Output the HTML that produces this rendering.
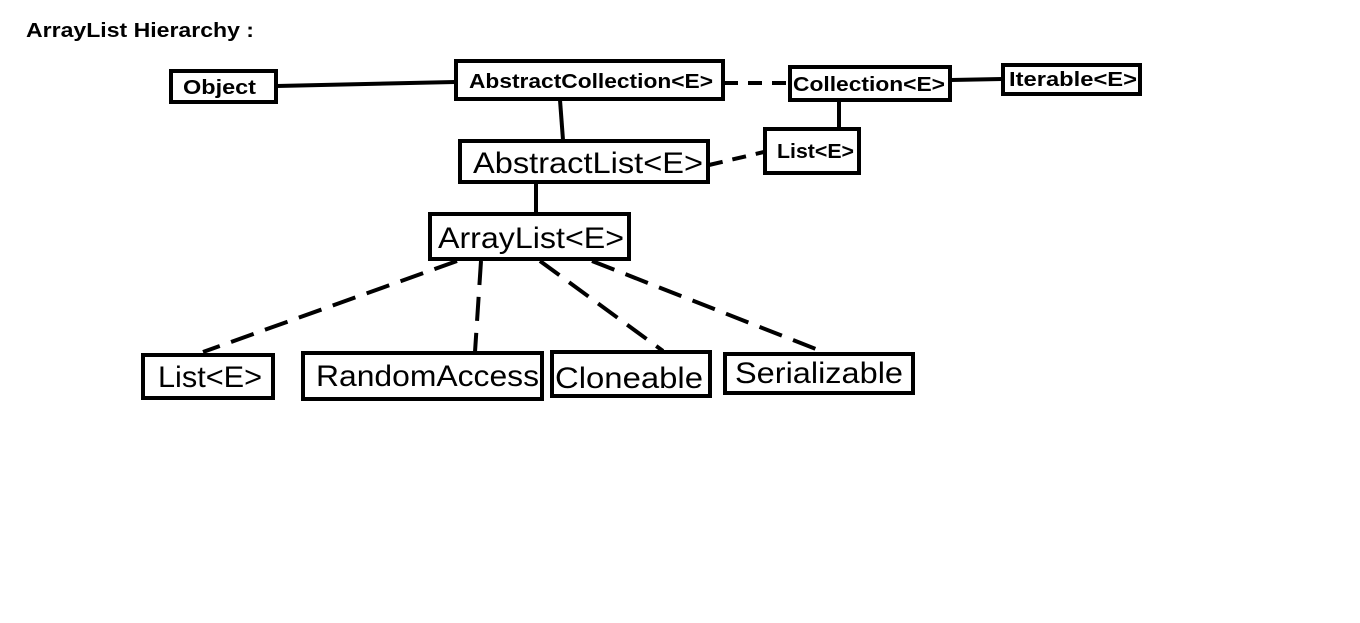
<!DOCTYPE html>
<html><head><style>body{margin:0;background:#fff}svg{display:block}</style></head><body>
<svg width="1360" height="623" xmlns="http://www.w3.org/2000/svg" font-family="Liberation Sans, sans-serif">
<rect width="1360" height="623" fill="#fff"/>
<text x="26" y="37" font-size="20" font-weight="bold" textLength="228" lengthAdjust="spacingAndGlyphs">ArrayList Hierarchy :</text>
<g stroke="#000" stroke-width="4" fill="none">
<line x1="277" y1="86" x2="455" y2="82"/>
<line x1="951" y1="80" x2="1002" y2="79"/>
<line x1="839" y1="101" x2="839" y2="128"/>
<line x1="560" y1="100" x2="563" y2="140"/>
<line x1="536" y1="183" x2="536" y2="215"/>
<g stroke-dasharray="24,12">
<line x1="724" y1="83" x2="789" y2="83" stroke-dasharray="14,10"/>
<line x1="709" y1="165" x2="764" y2="152" stroke-dasharray="14,10"/>
<line x1="457" y1="261" x2="203" y2="352"/>
<line x1="481" y1="261" x2="475" y2="352"/>
<line x1="540" y1="261" x2="663" y2="351"/>
<line x1="592" y1="261" x2="826" y2="353"/>
</g>
<rect x="171" y="71" width="105" height="31"/>
<rect x="456" y="61" width="267" height="38"/>
<rect x="790" y="67" width="160" height="33"/>
<rect x="1003" y="65" width="137" height="29"/>
<rect x="765" y="129" width="94" height="44"/>
<rect x="460" y="141" width="248" height="41"/>
<rect x="430" y="214" width="199" height="45"/>
<rect x="143" y="355" width="130" height="43"/>
<rect x="303" y="353" width="239" height="46"/>
<rect x="552" y="352" width="158" height="44"/>
<rect x="725" y="354" width="188" height="39"/>
</g>
<g font-size="20" font-weight="bold">
<text x="183" y="94" textLength="73" lengthAdjust="spacingAndGlyphs">Object</text>
<text x="469" y="88" textLength="244" lengthAdjust="spacingAndGlyphs">AbstractCollection&lt;E&gt;</text>
<text x="793" y="91" textLength="152" lengthAdjust="spacingAndGlyphs">Collection&lt;E&gt;</text>
<text x="1009" y="86" textLength="128" lengthAdjust="spacingAndGlyphs">Iterable&lt;E&gt;</text>
<text x="777" y="158" textLength="77" lengthAdjust="spacingAndGlyphs">List&lt;E&gt;</text>
</g>
<g font-size="30">
<text x="473" y="173" textLength="230" lengthAdjust="spacingAndGlyphs">AbstractList&lt;E&gt;</text>
<text x="438" y="248" textLength="186" lengthAdjust="spacingAndGlyphs">ArrayList&lt;E&gt;</text>
<text x="158" y="387" textLength="104" lengthAdjust="spacingAndGlyphs">List&lt;E&gt;</text>
<text x="316" y="386" textLength="223" lengthAdjust="spacingAndGlyphs">RandomAccess</text>
<text x="555" y="388" textLength="148" lengthAdjust="spacingAndGlyphs">Cloneable</text>
<text x="735" y="383" textLength="168" lengthAdjust="spacingAndGlyphs">Serializable</text>
</g>
</svg>
</body></html>
